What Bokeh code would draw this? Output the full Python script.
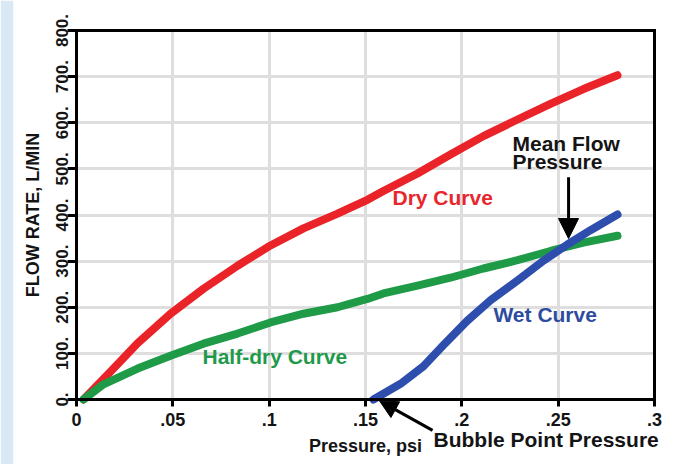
from bokeh.plotting import figure
from bokeh.models import (Range1d, FixedTicker, CustomJSTickFormatter, Label, Arrow,
                          NormalHead, Grid, BoxAnnotation)
from bokeh.embed import file_html
from bokeh.resources import INLINE

# ---- data ----
pressure_dry = [0.0036, 0.0176, 0.0317, 0.0488, 0.0659, 0.0836, 0.1007, 0.1178, 0.1355,
                0.1422, 0.1510, 0.1593, 0.1770, 0.1941, 0.2112, 0.2289, 0.2460, 0.2631, 0.2808]
flow_dry = [0, 60, 122, 186, 240, 290, 334, 371, 403,
            416, 433, 452, 490, 531, 571, 607, 641, 673, 703]

pressure_half = [0.0036, 0.0140, 0.0317, 0.0488, 0.0659, 0.0836, 0.1007, 0.1178, 0.1355,
                 0.1422, 0.1510, 0.1593, 0.1770, 0.1941, 0.2112, 0.2289, 0.2460, 0.2631, 0.2808]
flow_half = [0, 33, 67, 95, 121, 143, 167, 186, 200,
             208, 218, 230, 247, 264, 284, 302, 322, 340, 355]

pressure_wet = [0.1541, 0.1682, 0.1801, 0.1905, 0.2029, 0.2149, 0.2289, 0.2424, 0.2548, 0.2668, 0.2808]
flow_wet = [0, 34, 72, 118, 171, 215, 258, 301, 336, 367, 401]

x_ticks = [0, 0.05, 0.1, 0.15, 0.2, 0.25, 0.3]
x_tick_labels = ["0", ".05", ".1", ".15", ".2", ".25", ".3"]
y_ticks = [0, 100, 200, 300, 400, 500, 600, 700, 800]
y_tick_labels = ["0.", "100.", "200.", "300.", "400.", "500.", "600.", "700.", "800."]

X_MIN, X_MAX = 0.0, 0.3
Y_MIN, Y_MAX = 0.0, 800.0

# ---- layout (pixels) ----
W, H = 668, 464
LEFT_STRIP = 13
AX_LEFT_PX, AX_RIGHT_PX = 76, 654     # where x=0 and x=0.3 fall
AX_TOP_PX, AX_BOTTOM_PX = 30, 399     # where y=800 and y=0 fall
sx = (AX_RIGHT_PX - AX_LEFT_PX) / (X_MAX - X_MIN)
sy = (AX_BOTTOM_PX - AX_TOP_PX) / (Y_MAX - Y_MIN)
x_range = Range1d(X_MIN - (AX_LEFT_PX - LEFT_STRIP) / sx, X_MAX + (W - AX_RIGHT_PX) / sx)
y_range = Range1d(Y_MIN - (H - AX_BOTTOM_PX) / sy, Y_MAX + AX_TOP_PX / sy)

FONT = "Liberation Sans"
RED, GREEN, BLUE = "#ea2329", "#1f9b48", "#2e4eae"
TXT = "#141414"

p = figure(width=W, height=H, output_backend="svg", toolbar_location=None,
           x_range=x_range, y_range=y_range,
           min_border_left=LEFT_STRIP, min_border_right=0, min_border_top=0,
           min_border_bottom=0)
p.background_fill_color = "white"
p.border_fill_color = "#d9e8f5"
p.outline_line_color = None

fmt_code = """
for (let i = 0; i < tvals.length; i++) {
  if (Math.abs(tick - tvals[i]) < 1e-9) return tlabels[i];
}
return '';
"""

# main axes drawn through the origin
xa = p.xaxis[0]
ya = p.yaxis[0]
xa.fixed_location = Y_MIN
ya.fixed_location = X_MIN
xa.bounds = (X_MIN, X_MAX)
ya.bounds = (Y_MIN, Y_MAX)
xa.ticker = FixedTicker(ticks=x_ticks)
ya.ticker = FixedTicker(ticks=y_ticks)
xa.formatter = CustomJSTickFormatter(args=dict(tvals=x_ticks, tlabels=x_tick_labels), code=fmt_code)
ya.formatter = CustomJSTickFormatter(args=dict(tvals=y_ticks, tlabels=y_tick_labels), code=fmt_code)

for ax in (xa, ya):
    ax.axis_line_color = "black"
    ax.axis_line_width = 3
    ax.axis_line_cap = "square"
    ax.major_tick_line_color = "black"
    ax.major_tick_line_width = 3
    ax.major_tick_in = 0
    ax.minor_tick_line_color = None
    ax.major_label_text_font = FONT
    ax.major_label_text_font_style = "bold"
    ax.major_label_text_color = TXT
    ax.axis_label_text_font = FONT
    ax.axis_label_text_font_style = "bold"
    ax.axis_label_text_color = TXT

xa.major_tick_out = 7
xa.major_label_text_font_size = "18px"
xa.major_label_standoff = 6
xa.axis_label = "Pressure, psi"
xa.axis_label_text_font_size = "18px"
xa.axis_label_standoff = 7

ya.major_tick_out = 9
ya.major_label_text_font_size = "17px"
ya.major_label_orientation = "vertical"
ya.major_label_standoff = 0
ya.axis_label = "FLOW RATE, L/MIN"
ya.axis_label_text_font_size = "18px"
ya.axis_label_standoff = 10

# grid
for g in (p.xgrid, p.ygrid):
    g.grid_line_color = "#dedede"
    g.grid_line_width = 3
p.xgrid.ticker = FixedTicker(ticks=x_ticks)
p.ygrid.ticker = FixedTicker(ticks=y_ticks)
p.xgrid.bounds = (X_MIN, X_MAX)
p.ygrid.bounds = (Y_MIN, Y_MAX)
if "cross_bounds" in Grid.properties():
    p.xgrid.cross_bounds = (Y_MIN, Y_MAX)
    p.ygrid.cross_bounds = (X_MIN, X_MAX)
else:
    big = 1e4
    p.quad(left=[-big, X_MAX, -big, -big], right=[X_MIN, big, big, big],
           bottom=[-big, -big, Y_MAX, -big], top=[big, big, big, Y_MIN],
           fill_color="white", line_color=None)

# black plot box: top and right edges (left/bottom are the axes)
p.multi_line(xs=[[X_MIN, X_MAX, X_MAX]], ys=[[Y_MAX, Y_MAX, Y_MIN]],
             line_color="black", line_width=3, line_join="miter")
p.add_layout(BoxAnnotation(left=X_MIN, right=X_MAX, bottom=Y_MIN, top=Y_MAX,
                           fill_alpha=0, fill_color=None, line_color="black",
                           line_width=3, line_alpha=1.0))

# curves
p.line(pressure_dry, flow_dry, line_color=RED, line_width=8, line_cap="round", line_join="round")
p.line(pressure_half, flow_half, line_color=GREEN, line_width=8, line_cap="round", line_join="round")
p.line(pressure_wet, flow_wet, line_color=BLUE, line_width=8, line_cap="round", line_join="round")

# labels
def add_label(x, y, text, color, size="21px"):
    p.add_layout(Label(x=x, y=y, text=text, text_color=color, text_font=FONT,
                       text_font_style="bold", text_font_size=size,
                       text_baseline="alphabetic", text_align="left"))

add_label(0.1640, 437, "Dry Curve", "#e8262c")
add_label(0.2164, 184, "Wet Curve", "#2e4c9f")
add_label(0.0654, 93, "Half-dry Curve", "#1f9a4a")
add_label(0.2263, 555, "Mean Flow", TXT)
add_label(0.2263, 516, "Pressure", TXT)
add_label(0.1853, -87, "Bubble Point Pressure", TXT)

# arrows
p.add_layout(Arrow(end=NormalHead(size=20, fill_color="black", line_color="black"),
                   x_start=0.2554, y_start=482, x_end=0.2554, y_end=349,
                   line_color="black", line_width=3))
p.add_layout(Arrow(end=NormalHead(size=18, fill_color="black", line_color="black"),
                   x_start=0.1848, y_start=-67, x_end=0.1573, y_end=-3,
                   line_color="black", line_width=3))

open("out.html", "w").write(file_html(p, INLINE))
